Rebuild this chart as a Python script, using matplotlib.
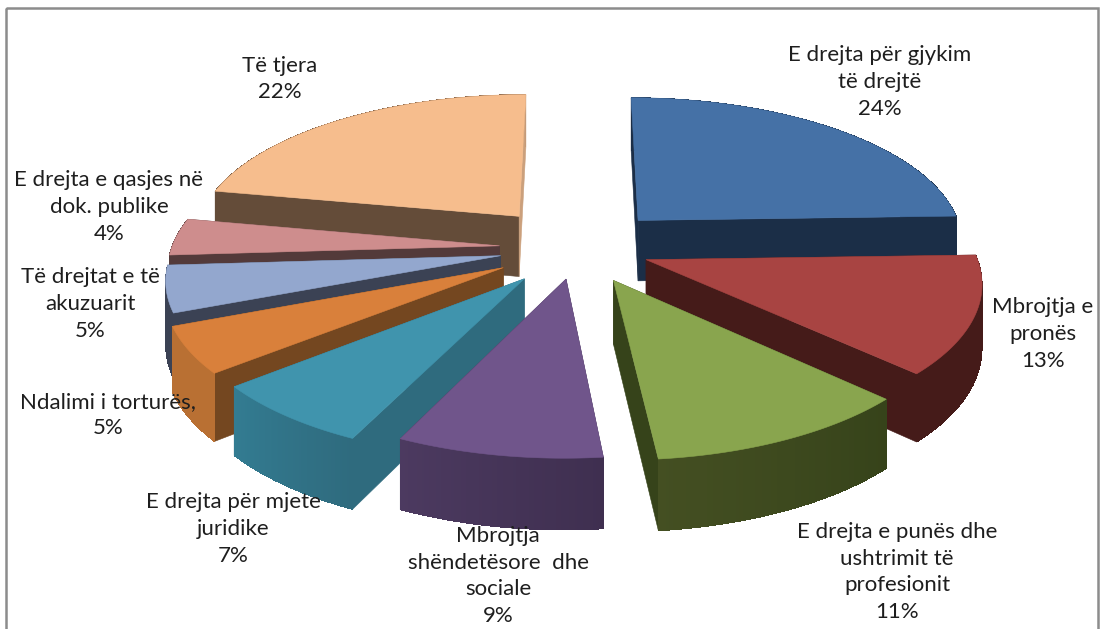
import numpy as np
import matplotlib
matplotlib.use("Agg")
import matplotlib.pyplot as plt
from matplotlib.collections import PolyCollection
from matplotlib.patches import Polygon, Rectangle

labels = ["E drejta për gjykim\ntë drejtë", "Mbrojtja e\npronës",
          "E drejta e punës dhe\nushtrimit të\nprofesionit",
          "Mbrojtja\nshëndetësore  dhe\nsociale", "E drejta për mjete\njuridike",
          "Ndalimi i torturës,", "Të drejtat e të\nakuzuarit",
          "E drejta e qasjes në\ndok. publike", "Të tjera"]
values = [24.5, 12.7, 11.2, 8.6, 7.0, 5.0, 5.0, 4.0, 22.0]
explode = [0.27, 0.22, 0.24, 0.21, 0.26, 0.26, 0.24, 0.24, 0.29]
top_colors = ["#4571A6", "#A84442", "#89A54E", "#70558B", "#4094AD",
              "#D9803B", "#93A7CE", "#CE8D8D", "#F6BD8D"]
arc_start = ["#1B2E47", "#451B19", "#36431A", "#3F2F50", "#2F6B7E",
             "#B97033", "#3B4254", "#533A3A", "#644C39"]
arc_end = ["#1B2E47", "#451B19", "#444F22", "#4C3A60", "#337C92",
           "#B97033", "#3B4254", "#533A3A", "#644C39"]
start_wall = ["#1B2E47", "#451B19", "#36431A", "#3F2F50", "#2F6B7E",
              "#744720", "#3B4254", "#533A3A", "#644C39"]
end_wall = ["#1B2E47", "#451B19", "#36431A", "#3F2F50", "#2F6B7E",
            "#744720", "#3B4254", "#533A3A", "#CBA07C"]
label_x = [880, 1043, 897, 498, 233, 108, 90, 109, 280]
label_y = [82, 334, 572, 576, 529, 415, 304, 207, 79]
draw_order = [8, 0, 7, 6, 1, 5, 4, 2, 3]

CX, CY, SX, SY, K = 578, 248, 328, 146, 0.134


def project(x, y):
    den = 1 + K * y
    return CX + SX * x / den, CY - SY * y / den


def rgb(c):
    return np.array(matplotlib.colors.to_rgb(c))


fig = plt.figure(figsize=(11, 6.29), dpi=100)
ax = fig.add_axes([0, 0, 1, 1])
ax.set_xlim(0, 1100)
ax.set_ylim(629, 0)
ax.axis("off")
ax.add_patch(Rectangle((6, 8), 1092, 700, fill=False, ec="#8C8C8C", lw=1.8))

fracs = np.array(values) / np.sum(values)
edges = np.concatenate([[0], np.cumsum(fracs)]) * 2 * np.pi


def arc_wall(px, py, h, ts, i):
    """Outer wall: a solid base with a gradient over it (no seams)."""
    if len(px) < 2:
        return
    base = list(zip(px, py)) + list(zip(px[::-1], (py + h)[::-1]))
    c0, c1 = rgb(arc_start[i]), rgb(arc_end[i])
    ax.add_patch(Polygon(base, closed=True, fc=(c0 + c1) / 2, ec="none"))
    quads = [[(px[j], py[j]), (px[j + 1], py[j + 1]),
              (px[j + 1], py[j + 1] + h[j + 1]), (px[j], py[j] + h[j])]
             for j in range(len(px) - 1)]
    cols = [(1 - ts[j]) * c0 + ts[j] * c1 for j in range(len(px) - 1)]
    ax.add_collection(PolyCollection(quads, facecolors=cols, edgecolors="none",
                                     antialiaseds=False))


for i in draw_order:
    t0, t1 = edges[i], edges[i + 1]
    mid = (t0 + t1) / 2
    ox, oy = explode[i] * np.sin(mid), explode[i] * np.cos(mid)
    th = np.linspace(t0, t1, 80)
    wx = ox + np.sin(th)
    wy = oy + np.cos(th)
    ax0, ay0 = project(ox, oy)
    px, py = project(wx, wy)
    ah = 62 - 8 * oy
    h = 62 - 8 * wy
    ts = (th - t0) / (t1 - t0)
    back = np.cos(th) > 0
    # faces that look away from the viewer go first
    arc_wall(px[back], py[back], h[back], ts[back], i)
    ax.add_patch(Polygon([(ax0, ay0), (px[0], py[0]), (px[0], py[0] + h[0]), (ax0, ay0 + ah)],
                         closed=True, fc=start_wall[i], ec=start_wall[i], lw=0.4))
    ax.add_patch(Polygon([(ax0, ay0), (px[-1], py[-1]), (px[-1], py[-1] + h[-1]), (ax0, ay0 + ah)],
                         closed=True, fc=end_wall[i], ec=end_wall[i], lw=0.4))
    arc_wall(px[~back], py[~back], h[~back], ts[~back], i)
    pts = [(ax0, ay0)] + list(zip(px, py))
    ax.add_patch(Polygon(pts, closed=True, fc=top_colors[i], ec=top_colors[i], lw=0.4))

for lab, v, x, y in zip(labels, values, label_x, label_y):
    ax.text(x, y, f"{lab}\n{v:.0f}%", ha="center", va="center", family="Lato",
            fontsize=16, color="#1E1E1E", linespacing=1.42)

fig.savefig("out.png", dpi=100)
